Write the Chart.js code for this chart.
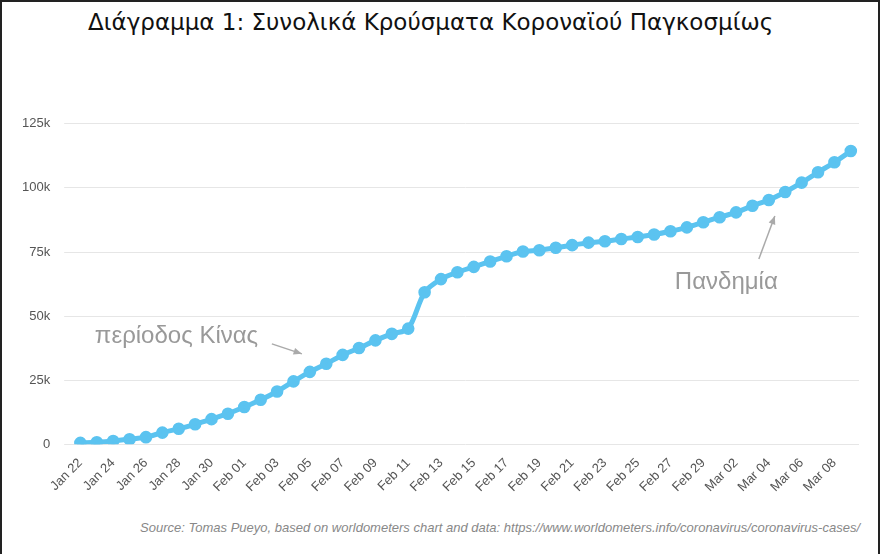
<!DOCTYPE html>
<html><head><meta charset="utf-8">
<script src="https://cdn.jsdelivr.net/npm/chart.js@4"></script>
<style>
body{margin:0;background:#fff}
#wrap{position:absolute;left:0;top:0;width:876px;height:552px;border:2px solid #222;border-bottom:none}
h1{position:absolute;left:88px;top:9px;margin:0;font:400 23px "DejaVu Sans",sans-serif;color:#111}
#src{position:absolute;right:20px;top:520px;font:italic 13px "Liberation Sans",sans-serif;color:#888}
#box{position:absolute;left:8px;top:102px;width:860px;height:396px}
</style></head><body>
<div id="wrap"></div>
<h1>Διάγραμμα 1: Συνολικά Κρούσματα Κοροναϊού Παγκοσμίως</h1>
<div id="box"><canvas id="c"></canvas></div>
<div id="src">Source: Tomas Pueyo, based on worldometers chart and data: https://www.worldometers.info/coronavirus/coronavirus-cases/</div>
<script>
const days = ["Jan 22","Jan 23","Jan 24","Jan 25","Jan 26","Jan 27","Jan 28","Jan 29","Jan 30","Jan 31",
"Feb 01","Feb 02","Feb 03","Feb 04","Feb 05","Feb 06","Feb 07","Feb 08","Feb 09","Feb 10","Feb 11","Feb 12","Feb 13","Feb 14","Feb 15","Feb 16","Feb 17","Feb 18","Feb 19","Feb 20","Feb 21","Feb 22","Feb 23","Feb 24","Feb 25","Feb 26","Feb 27","Feb 28","Feb 29",
"Mar 01","Mar 02","Mar 03","Mar 04","Mar 05","Mar 06","Mar 07","Mar 08","Mar 09"];
const cases = [580,845,1317,2015,2800,4581,6058,7813,9823,11950,14553,17391,20630,24545,28266,31439,34876,37552,40553,43099,45134,59287,64438,67100,69197,71329,73332,75184,75700,76677,77673,78651,79205,80087,80828,81820,83112,84615,86604,88585,90443,93016,95314,98425,102050,106099,109991,114381];
const yTicks = [0,25000,50000,75000,100000,125000];
const notes = [
  {text:"περίοδος Κίνας", at:"Feb 05", tx:-215, ty:-35, sx:-38, sy:-28, ex:-8, ey:-18},
  {text:"Πανδημία", at:"Mar 04", tx:-94, ty:82, sx:-10, sy:59, ex:6, ey:16}
];
const notePlugin = {
  id:"notes",
  afterDatasetsDraw(ch){
    const c = ch.ctx, xs = ch.scales.x, ys = ch.scales.y;
    notes.forEach(n=>{
      const i = days.indexOf(n.at);
      const px = xs.getPixelForValue(i), py = ys.getPixelForValue(cases[i]);
      c.save();
      c.fillStyle="#999"; c.font='24px "Liberation Sans",sans-serif';
      c.textBaseline="middle";
      c.fillText(n.text, px+n.tx, py+n.ty);
      const sx=px+n.sx, sy=py+n.sy, ex=px+n.ex, ey=py+n.ey;
      c.strokeStyle="#aaa"; c.lineWidth=1.5;
      c.beginPath(); c.moveTo(sx,sy); c.lineTo(ex,ey); c.stroke();
      const a=Math.atan2(ey-sy,ex-sx);
      c.fillStyle="#aaa"; c.beginPath();
      c.moveTo(ex,ey);
      c.lineTo(ex-9*Math.cos(a-0.4),ey-9*Math.sin(a-0.4));
      c.lineTo(ex-9*Math.cos(a+0.4),ey-9*Math.sin(a+0.4));
      c.fill(); c.restore();
    });
  }
};
new Chart("c",{
  type:"line",
  data:{labels:days,datasets:[{data:cases,borderColor:"#5bc3f0",backgroundColor:"#5bc3f0",borderWidth:5,pointRadius:3.8,tension:0.3}]},
  options:{
    responsive:true,maintainAspectRatio:false,animation:false,
    layout:{padding:{right:4,left:0,top:0}},
    plugins:{legend:{display:false},tooltip:{enabled:false}},
    scales:{
      x:{offset:true,grid:{display:false},border:{display:false},
         ticks:{autoSkip:false,maxRotation:45,minRotation:45,color:"#555",font:{size:13,family:"Liberation Sans"},
           callback:(v,i)=>i%2===0?days[i]:""}},
      y:{min:0,max:125000,afterBuildTicks:s=>{s.ticks=yTicks.map(v=>({value:v}));},
         grid:{color:"#e6e6e6"},border:{display:false},
         ticks:{color:"#555",padding:14,font:{size:13,family:"Liberation Sans"},callback:v=>v===0?"0":(v/1000)+"k"}}
    }
  },
  plugins:[notePlugin]
});
</script>
</body></html>
